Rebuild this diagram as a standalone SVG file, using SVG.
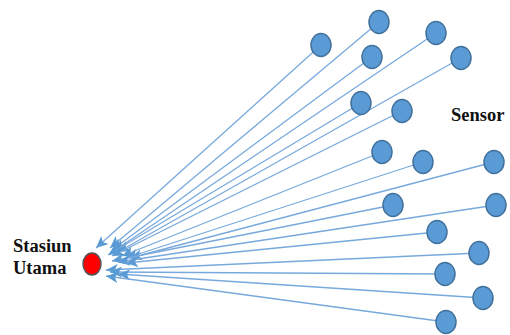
<svg xmlns="http://www.w3.org/2000/svg" width="510" height="335" viewBox="0 0 510 335">
<style>
.c{stroke:#78A9DD;stroke-width:1.3;fill:none;marker-end:url(#ah)}
.s{fill:#5B9BD5;stroke:#41719C;stroke-width:1.5}
.t{font-family:"Liberation Serif","Times New Roman","DejaVu Serif",serif;font-weight:bold;font-size:18.5px;fill:#111}
</style>
<defs>
<marker id="ah" markerUnits="userSpaceOnUse" markerWidth="13" markerHeight="11" refX="12" refY="5.5" orient="auto">
<path d="M0,0 L12,5.5 L0,11 L3,5.5 z" fill="#5B9BD5"/>
</marker>
</defs>
<rect width="510" height="335" fill="#fff"/>
<g id="connectors">
<line class="c" x1="321" y1="45" x2="96" y2="248"/>
<line class="c" x1="379" y1="22" x2="110" y2="248"/>
<line class="c" x1="372" y1="57" x2="112" y2="250"/>
<line class="c" x1="436" y1="33" x2="114" y2="251"/>
<line class="c" x1="461" y1="58" x2="118" y2="252"/>
<line class="c" x1="361" y1="103" x2="108" y2="255"/>
<line class="c" x1="402" y1="111" x2="112" y2="256"/>
<line class="c" x1="382" y1="152" x2="122" y2="256"/>
<line class="c" x1="423" y1="162" x2="126" y2="258"/>
<line class="c" x1="494" y1="162" x2="130" y2="258"/>
<line class="c" x1="393" y1="205" x2="112" y2="261"/>
<line class="c" x1="496" y1="205" x2="118" y2="262"/>
<line class="c" x1="437" y1="232" x2="126" y2="263"/>
<line class="c" x1="479" y1="253" x2="106" y2="270"/>
<line class="c" x1="445" y1="274" x2="110" y2="272"/>
<line class="c" x1="483" y1="298" x2="118" y2="274"/>
<line class="c" x1="446" y1="322" x2="106" y2="276"/>
</g>
<g id="n1"><ellipse class="s" cx="321" cy="45" rx="10" ry="11.5"/></g>
<g id="n2"><ellipse class="s" cx="379" cy="22" rx="10" ry="11.5"/></g>
<g id="n3"><ellipse class="s" cx="372" cy="57" rx="10" ry="11.5"/></g>
<g id="n4"><ellipse class="s" cx="436" cy="33" rx="10" ry="11.5"/></g>
<g id="n5"><ellipse class="s" cx="461" cy="58" rx="10" ry="11.5"/></g>
<g id="n6"><ellipse class="s" cx="361" cy="103" rx="10" ry="11.5"/></g>
<g id="n7"><ellipse class="s" cx="402" cy="111" rx="10" ry="11.5"/></g>
<g id="n8"><ellipse class="s" cx="382" cy="152" rx="10" ry="11.5"/></g>
<g id="n9"><ellipse class="s" cx="423" cy="162" rx="10" ry="11.5"/></g>
<g id="n10"><ellipse class="s" cx="494" cy="162" rx="10" ry="11.5"/></g>
<g id="n11"><ellipse class="s" cx="393" cy="205" rx="10" ry="11.5"/></g>
<g id="n12"><ellipse class="s" cx="496" cy="205" rx="10" ry="11.5"/></g>
<g id="n13"><ellipse class="s" cx="437" cy="232" rx="10" ry="11.5"/></g>
<g id="n14"><ellipse class="s" cx="479" cy="253" rx="10" ry="11.5"/></g>
<g id="n15"><ellipse class="s" cx="445" cy="274" rx="10" ry="11.5"/></g>
<g id="n16"><ellipse class="s" cx="483" cy="298" rx="10" ry="11.5"/></g>
<g id="n17"><ellipse class="s" cx="446" cy="322" rx="10" ry="11.5"/></g>
<g id="station">
<ellipse cx="92" cy="264" rx="9" ry="11" fill="#FF0000" stroke="#555" stroke-width="1.5"/>
<text class="t" x="13" y="252">Stasiun</text>
<text class="t" x="13" y="274">Utama</text>
</g>
<g id="sensor-label"><text class="t" x="451" y="121">Sensor</text></g>
</svg>
